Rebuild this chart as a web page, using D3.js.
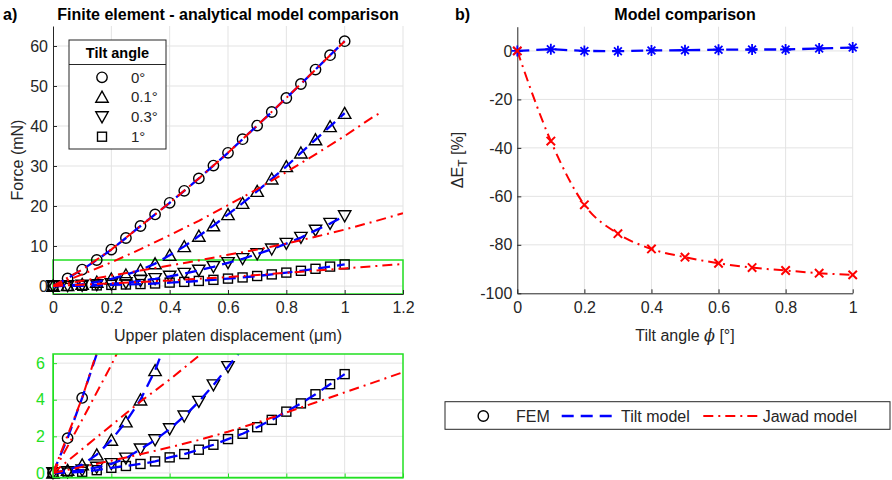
<!DOCTYPE html>
<html><head><meta charset="utf-8">
<script src="https://cdn.jsdelivr.net/npm/d3@7"></script>
<style>
body{margin:0;background:#fff}
svg{display:block}
text{font-family:"Liberation Sans",Arial,Helvetica,sans-serif}
</style>
</head><body>
<svg id="chart" width="892" height="480"></svg>
<script>
// ---------------- DATA ----------------
const displacement = [0,0.05,0.1,0.15,0.2,0.25,0.3,0.35,0.4,0.45,0.5,0.55,0.6,0.65,0.7,0.75,0.8,0.85,0.9,0.95,1.0];
const tiltAngles = ["0°","0.1°","0.3°","1°"];
// FEM force (mN)
const fem0  = [0,1.9,4.1,6.5,9.1,12.0,15.0,17.9,20.8,23.8,26.9,30.1,33.3,36.7,40.1,43.5,47.0,50.5,54.1,57.7,61.2];
const fem01 = [0,0.15,0.45,1.0,1.8,2.8,4.0,5.6,7.7,9.9,12.5,15.1,17.9,20.7,23.7,26.8,29.9,33.3,36.6,39.9,43.2];
const fem03 = [0,0.05,0.15,0.3,0.5,0.8,1.3,1.8,2.4,3.1,3.9,4.8,5.8,6.8,8.0,9.2,10.6,12.1,13.9,15.6,17.5];
const fem1  = [0,0.02,0.06,0.15,0.28,0.38,0.49,0.63,0.85,1.03,1.27,1.54,1.85,2.14,2.5,2.9,3.35,3.8,4.3,4.85,5.4];
// Tilt model (mN), same displacement grid
const tilt0  = [0,1.9,4.1,6.5,9.1,12.0,15.0,17.9,20.8,23.8,26.9,30.1,33.3,36.7,40.1,43.5,47.0,50.5,54.1,57.7,61.2];
const tilt01 = [0,0.15,0.45,1.0,1.8,2.8,4.0,5.6,7.7,9.9,12.5,15.1,17.9,20.7,23.7,26.8,29.9,33.3,36.6,39.9,43.2];
const tilt03 = [0,0.05,0.15,0.3,0.5,0.8,1.3,1.8,2.4,3.1,3.9,4.8,5.8,6.8,8.0,9.2,10.6,12.1,13.9,15.6,17.5];
const tilt1  = [0,0.02,0.06,0.15,0.28,0.38,0.49,0.63,0.85,1.03,1.27,1.54,1.85,2.14,2.5,2.9,3.35,3.8,4.3,4.85,5.4];
// Jawad model (mN)
const jawad0X  = [0,0.1,0.2,0.3,0.4,0.5,0.6,0.7,0.8,0.9,1.0];
const jawad0   = [0,4.1,9.1,15.0,20.8,26.9,33.3,40.1,47.0,54.1,61.2];
const jawad01X = [0,0.1,0.2,0.3,0.4,0.5,0.6,0.7,0.8,0.9,1.0,1.1,1.12];
const jawad01  = [0,2.9,5.9,9.2,12.7,16.3,20.2,24.2,28.5,32.9,37.5,42.4,43.2];
const jawad03X = [0,0.1,0.2,0.3,0.4,0.5,0.6,0.7,0.8,0.9,1.0,1.1,1.2];
const jawad03  = [0,1.3,2.6,3.9,5.1,6.4,7.8,9.1,10.6,12.3,14.1,16.1,18.2];
const jawad1X  = [0,0.1,0.2,0.3,0.4,0.5,0.6,0.7,0.8,0.9,1.0,1.1,1.2];
const jawad1   = [0,0.33,0.67,1.02,1.4,1.8,2.25,2.75,3.3,3.85,4.4,4.95,5.5];
// Panel b
const tiltAngleDeg = [0,0.1,0.2,0.3,0.4,0.5,0.6,0.7,0.8,0.9,1.0];
const deltaETilt   = [0,0.7,0,-0.1,0.2,0.3,0.5,0.6,0.6,1.0,1.4];
const deltaEJawad  = [0,-37.2,-63.5,-75.4,-81.7,-85.1,-87.6,-89.4,-90.6,-91.7,-92.4];
// Ticks
const xTicksA = [0,0.2,0.4,0.6,0.8,1.0,1.2];
const xTickLabelsA = ["0","0.2","0.4","0.6","0.8","1","1.2"];
const yTicksA = [0,10,20,30,40,50,60];
const yTicksInset = [0,2,4,6];
const xTicksB = [0,0.2,0.4,0.6,0.8,1.0];
const xTickLabelsB = ["0","0.2","0.4","0.6","0.8","1"];
const yTicksB = [-100,-80,-60,-40,-20,0];

// ---------------- STYLE ----------------
const AX = "#262626", GRID = "#e3e3e3", GREEN = "#22e022", BLUE = "#0000ff", RED = "#ff0000";
const DASH = "12,7", DASHDOT = "10,5,2,5";
const svg = d3.select("#chart");

const femSeries = [
  {v: fem0, m: "circle"}, {v: fem01, m: "up"}, {v: fem03, m: "down"}, {v: fem1, m: "square"}
];
const tiltSeries = [tilt0, tilt01, tilt03, tilt1];
const jawadSeries = [[jawad0X, jawad0],[jawad01X, jawad01],[jawad03X, jawad03],[jawad1X, jawad1]];

function drawMarker(g, type, x, y) {
  const s = g.append("g").attr("transform", `translate(${x},${y})`)
    .attr("fill","none").attr("stroke","#000").attr("stroke-width",1.4);
  if (type === "circle") s.append("circle").attr("r",5.2);
  else if (type === "up") s.append("path").attr("d","M0,-5.8L6.2,5.2L-6.2,5.2Z");
  else if (type === "down") s.append("path").attr("d","M0,5.8L6.2,-5.2L-6.2,-5.2Z");
  else if (type === "square") s.append("rect").attr("x",-4.5).attr("y",-4.5).attr("width",9).attr("height",9);
  else if (type === "star") {
    s.attr("stroke",BLUE).attr("stroke-width",1.8);
    s.append("path").attr("d","M-5.5,0H5.5M0,-5.5V5.5M-3.9,-3.9L3.9,3.9M-3.9,3.9L3.9,-3.9");
  } else if (type === "x") {
    s.attr("stroke",RED).attr("stroke-width",2);
    s.append("path").attr("d","M-4.2,-4.2L4.2,4.2M-4.2,4.2L4.2,-4.2");
  }
}

function grid(g, x, y, xt, yt) {
  const [x0,x1] = x.range(), [y0,y1] = y.range();
  g.append("g").selectAll("line").data(xt).join("line")
    .attr("x1",d=>x(d)).attr("x2",d=>x(d)).attr("y1",y0).attr("y2",y1)
    .attr("stroke",GRID).attr("stroke-width",1);
  g.append("g").selectAll("line").data(yt).join("line")
    .attr("x1",x0).attr("x2",x1).attr("y1",d=>y(d)).attr("y2",d=>y(d))
    .attr("stroke",GRID).attr("stroke-width",1);
}

function styleAxis(sel, color) {
  sel.selectAll("path.domain").attr("stroke",color).attr("stroke-width",1);
  sel.selectAll(".tick line").attr("stroke",color).attr("stroke-width",1);
  sel.selectAll(".tick text").style("font-size","16px").style("fill",color)
     .style("font-family",'"Liberation Sans",Arial,sans-serif');
}

function label(x, y, txt, opts = {}) {
  const t = svg.append("text").attr("x",x).attr("y",y)
    .style("font-size", opts.size || "16px")
    .style("fill", opts.fill || AX)
    .attr("text-anchor", opts.anchor || "start");
  if (opts.bold) t.style("font-weight","bold");
  if (opts.transform) t.attr("transform", opts.transform);
  if (txt !== null) t.text(txt);
  return t;
}

// ---------------- PANEL A (main) ----------------
const xA = d3.scaleLinear().domain([0,1.2]).range([53,403]);
const yA = d3.scaleLinear().domain([-2,65]).range([294,26]);
const defs = svg.append("defs");
defs.append("clipPath").attr("id","clipA").append("rect").attr("x",53).attr("y",26).attr("width",350).attr("height",268);
const gA = svg.append("g");
grid(gA, xA, yA, xTicksA.slice(1), yTicksA);
gA.append("rect").attr("x",xA(0)).attr("y",yA(6.5)).attr("width",xA(1.2)-xA(0)).attr("height",yA(-2)-yA(6.5))
  .attr("fill","none").attr("stroke",GREEN).attr("stroke-width",1.5);

const axA_x = gA.append("g").attr("transform",`translate(0,${yA(-2)})`)
  .call(d3.axisBottom(xA).tickValues(xTicksA).tickFormat((d,i)=>xTickLabelsA[i]).tickSizeInner(-4).tickSizeOuter(0).tickPadding(8));
styleAxis(axA_x, AX);
const axA_y = gA.append("g").attr("transform",`translate(${xA(0)},0)`)
  .call(d3.axisLeft(yA).tickValues(yTicksA).tickFormat(d=>String(d)).tickSizeInner(-4).tickSizeOuter(0).tickPadding(5));
styleAxis(axA_y, AX);

function drawSeries(g, x, y, clipId, yMin, yMax) {
  const gm = g.append("g");
  femSeries.forEach(s => {
    displacement.forEach((d,i) => {
      if (s.v[i] >= yMin && s.v[i] < yMax) drawMarker(gm, s.m, x(d), y(s.v[i]));
    });
  });
  const gl = g.append("g").attr("clip-path",`url(#${clipId})`);
  tiltSeries.forEach(v => {
    gl.append("path").datum(displacement.map((d,i)=>[d,v[i]]))
      .attr("d", d3.line().x(p=>x(p[0])).y(p=>y(p[1])))
      .attr("fill","none").attr("stroke",BLUE).attr("stroke-width",2.3).attr("stroke-dasharray",DASH);
  });
  jawadSeries.forEach(([xs,v]) => {
    gl.append("path").datum(xs.map((d,i)=>[d,v[i]]))
      .attr("d", d3.line().x(p=>x(p[0])).y(p=>y(p[1])))
      .attr("fill","none").attr("stroke",RED).attr("stroke-width",2).attr("stroke-dasharray",DASHDOT);
  });
}
drawSeries(gA, xA, yA, "clipA", -2, 65);

label(228, 20, "Finite element - analytical model comparison", {anchor:"middle", bold:true, fill:"#000"});
label(3, 20, "a)", {bold:true, fill:"#000"});
label(228, 341, "Upper platen displacement (μm)", {anchor:"middle"});
label(0, 0, "Force (mN)", {anchor:"middle", transform:"translate(23,160) rotate(-90)"});

// legend (tilt angle)
const lg = svg.append("g");
lg.append("rect").attr("x",69).attr("y",40).attr("width",97).attr("height",109).attr("fill","#fff").attr("stroke",AX).attr("stroke-width",1);
lg.append("line").attr("x1",69).attr("x2",166).attr("y1",64.5).attr("y2",64.5).attr("stroke",AX).attr("stroke-width",1);
lg.append("text").attr("x",117.5).attr("y",58).attr("text-anchor","middle").style("font-weight","bold").style("font-size","14.5px").style("fill","#000").text("Tilt angle");
const legYs = [77.3, 97, 117, 136.7];
femSeries.forEach((s,i) => {
  drawMarker(lg, s.m, 102, legYs[i]);
  lg.append("text").attr("x",131).attr("y",legYs[i]+5.3).style("font-size","15px").style("fill",AX).text(tiltAngles[i]);
});

// ---------------- PANEL A (inset) ----------------
const xI = d3.scaleLinear().domain([0,1.2]).range([53,403]);
const yI = d3.scaleLinear().domain([-0.25,6.5]).range([477.5,354]);
defs.append("clipPath").attr("id","clipI").append("rect").attr("x",53).attr("y",354).attr("width",350).attr("height",123.5);
const gI = svg.append("g");
grid(gI, xI, yI, xTicksA.slice(1,-1), yTicksInset);
const axI_x = gI.append("g").attr("transform",`translate(0,${yI(-0.25)})`)
  .call(d3.axisBottom(xI).tickValues(xTicksA).tickFormat("").tickSizeInner(-4).tickSizeOuter(0));
styleAxis(axI_x, GREEN);
const axI_y = gI.append("g").attr("transform",`translate(${xI(0)},0)`)
  .call(d3.axisLeft(yI).tickValues(yTicksInset).tickFormat(d=>String(d)).tickSizeInner(-4).tickSizeOuter(0).tickPadding(8));
styleAxis(axI_y, GREEN);
drawSeries(gI, xI, yI, "clipI", -0.25, 6.5);
gI.append("rect").attr("x",53).attr("y",354).attr("width",350).attr("height",123.5)
  .attr("fill","none").attr("stroke",GREEN).attr("stroke-width",1.5);

// ---------------- PANEL B ----------------
const xB = d3.scaleLinear().domain([0,1]).range([517.3,852.7]);
const yB = d3.scaleLinear().domain([-100,10]).range([293.3,26.7]);
defs.append("clipPath").attr("id","clipB").append("rect").attr("x",517.3).attr("y",26.7).attr("width",335.4).attr("height",266.6);
const gB = svg.append("g");
grid(gB, xB, yB, xTicksB.slice(1), yTicksB.slice(1));
const axB_x = gB.append("g").attr("transform",`translate(0,${yB(-100)})`)
  .call(d3.axisBottom(xB).tickValues(xTicksB).tickFormat((d,i)=>xTickLabelsB[i]).tickSizeInner(-4).tickSizeOuter(0).tickPadding(8));
styleAxis(axB_x, AX);
const axB_y = gB.append("g").attr("transform",`translate(${xB(0)},0)`)
  .call(d3.axisLeft(yB).tickValues(yTicksB).tickFormat(d=>String(d)).tickSizeInner(-4).tickSizeOuter(0).tickPadding(5));
styleAxis(axB_y, AX);
const glB = gB.append("g").attr("clip-path","url(#clipB)");
glB.append("path").datum(tiltAngleDeg.map((d,i)=>[d,deltaETilt[i]]))
  .attr("d", d3.line().x(p=>xB(p[0])).y(p=>yB(p[1])))
  .attr("fill","none").attr("stroke",BLUE).attr("stroke-width",2.3).attr("stroke-dasharray",DASH);
glB.append("path").datum(tiltAngleDeg.map((d,i)=>[d,deltaEJawad[i]]))
  .attr("d", d3.line().curve(d3.curveMonotoneX).x(p=>xB(p[0])).y(p=>yB(p[1])))
  .attr("fill","none").attr("stroke",RED).attr("stroke-width",2).attr("stroke-dasharray",DASHDOT);
tiltAngleDeg.forEach((d,i)=>drawMarker(gB,"star",xB(d),yB(deltaETilt[i])));
tiltAngleDeg.forEach((d,i)=>drawMarker(gB,"x",xB(d),yB(deltaEJawad[i])));

label(685, 20, "Model comparison", {anchor:"middle", bold:true, fill:"#000"});
label(455, 20, "b)", {bold:true, fill:"#000"});
const xl = label(685, 341, null, {anchor:"middle"});
xl.append("tspan").text("Tilt angle ");
xl.append("tspan").style("font-style","italic").style("font-family",'"DejaVu Serif",serif').text("ϕ");
xl.append("tspan").text(" [°]");
const yl = label(0, 0, null, {anchor:"middle", transform:"translate(463,160) rotate(-90)"});
yl.append("tspan").text("ΔE");
yl.append("tspan").attr("dy",4).style("font-size","12px").text("T");
yl.append("tspan").attr("dy",-4).text(" [%]");

// ---------------- LEGEND B ----------------
const lb = svg.append("g");
lb.append("rect").attr("x",445).attr("y",401.7).attr("width",445).attr("height",27.6).attr("fill","#fff").attr("stroke",AX).attr("stroke-width",1);
drawMarker(lb,"circle",483.3,416);
lb.append("text").attr("x",516).attr("y",421.7).style("font-size","16px").style("fill",AX).text("FEM");
lb.append("line").attr("x1",561.7).attr("x2",616.7).attr("y1",416).attr("y2",416).attr("stroke",BLUE).attr("stroke-width",2.3).attr("stroke-dasharray",DASH);
lb.append("text").attr("x",621).attr("y",421.7).style("font-size","16px").style("fill",AX).text("Tilt model");
lb.append("line").attr("x1",703.3).attr("x2",758.3).attr("y1",416).attr("y2",416).attr("stroke",RED).attr("stroke-width",2).attr("stroke-dasharray",DASHDOT);
lb.append("text").attr("x",762.7).attr("y",421.7).style("font-size","16px").style("fill",AX).text("Jawad model");
</script>
</body></html>
